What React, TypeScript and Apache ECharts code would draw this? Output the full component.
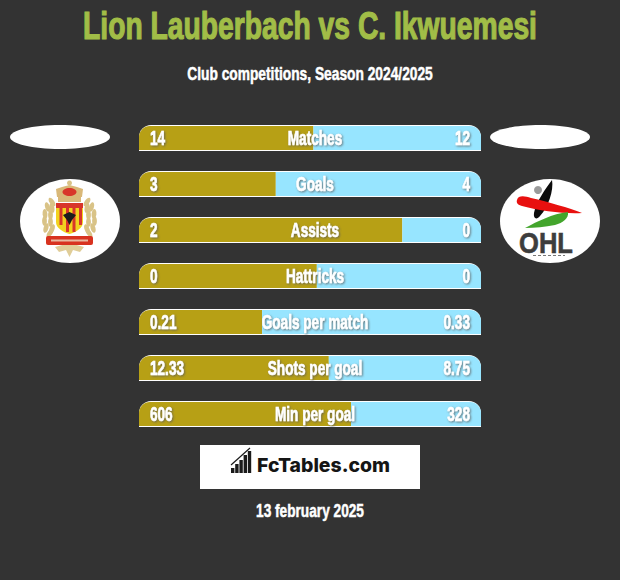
import React, { useEffect, useRef } from "react";
import * as echarts from "echarts";

const titleText = "Lion Lauberbach vs C. Ikwuemesi";
const subtitleText = "Club competitions, Season 2024/2025";
const dateText = "13 february 2025";
const brandText = "FcTables.com";
const categories = ["Matches", "Goals", "Assists", "Hattricks", "Goals per match", "Shots per goal", "Min per goal"];
const leftLabels = ["14", "3", "2", "0", "0.21", "12.33", "606"];
const rightLabels = ["12", "4", "0", "0", "0.33", "8.75", "328"];
const leftShares = [51, 40, 77, 52, 36, 55.5, 62];
const rightShares = [49, 60, 23, 48, 64, 44.5, 38];
const fullTrack = [100, 100, 100, 100, 100, 100, 100];

const FONT = '"Liberation Sans", sans-serif';
const GOLD = "#b7a015";
const BLUE = "#97e5ff";
const TAN = "#d9c387";

echarts.graphic.registerShape("redSwoosh", echarts.graphic.extendPath("M517 200 C518 195 525 196 531 198 C549 202 569 208 582 213 C565 214 540 211 522 206 C518 205 516 203 517 200 Z", {}));
echarts.graphic.registerShape("greenSwoosh", echarts.graphic.extendPath("M525 228 C538 221 552 214 568 212 C569 218 563 223 555 225 C545 227 535 228 525 228 Z", {}));
echarts.graphic.registerShape("blackStick", echarts.graphic.extendPath("M552 180 C554 190 548 208 540 216 C537 220 533 219 534 213 C536 202 546 188 552 180 Z", {}));
echarts.graphic.registerShape("crestShield", echarts.graphic.extendPath("M56 204 L83 204 L83 222 C83 228 76 232 69.5 234 C63 232 56 228 56 222 Z", {}));

function labelText(x: number, y: number, text: string, align: string) {
  return {
    type: "text",
    x,
    y: y + 1,
    scaleX: 0.68,
    style: {
      text,
      fill: "#ffffff",
      stroke: "#ffffff",
      lineWidth: 0.6,
      font: `bold 20px ${FONT}`,
      textAlign: align,
      textVerticalAlign: "middle",
      textShadowColor: "rgba(90,90,90,0.8)",
      textShadowBlur: 2,
      textShadowOffsetX: 1,
      textShadowOffsetY: 1,
    },
  };
}

function renderRowLabels(_: any, api: any) {
  const row = api.value(1);
  const [x0, y] = api.coord([0, row]);
  const [x1] = api.coord([100, row]);
  return {
    type: "group",
    children: [
      labelText(x0 + 11, y, leftLabels[row], "left"),
      labelText(x1 - 11, y, rightLabels[row], "right"),
      labelText((x0 + x1) / 2 + 5, y, categories[row], "center"),
    ],
  };
}

function pageText(x: number, y: number, text: string, fill: string, size: number, scaleX: number) {
  return {
    type: "text",
    x,
    y,
    scaleX,
    style: { text, fill, stroke: fill, lineWidth: size > 30 ? 1.2 : 0.5, font: `bold ${size}px ${FONT}`, textAlign: "center", textVerticalAlign: "middle" },
  };
}

function buildBrandBars() {
  const heights = [5, 9, 13, 18, 22];
  return heights.map((h, i) => ({
    type: "rect",
    shape: { x: 231 + i * 4.2, y: 473 - h, width: 3.4, height: h },
    style: { fill: "#1b1b1b" },
  }));
}

function leaf(cx: number, cy: number, rotation: number) {
  return {
    type: "ellipse",
    x: cx,
    y: cy,
    rotation,
    shape: { cx: 0, cy: 0, rx: 2.4, ry: 5 },
    style: { fill: TAN },
  };
}

function buildCrest() {
  const leaves = [
    [52, 202, 0.6], [47.5, 207, 0.3], [45, 214, 0.1], [44.5, 221, 0], [46, 228, -0.3], [50, 233, -0.6],
    [52, 208, 0.2], [50.5, 215, 0], [50.5, 222, 0], [52, 229, -0.4],
  ];
  const left = leaves.map(([x, y, r]) => leaf(x, y, r));
  const right = leaves.map(([x, y, r]) => leaf(139 - x, y, -r));
  const stripes = [59.5, 66, 72.5, 79].map((x) => ({
    type: "rect",
    shape: { x, y: 207, width: 3, height: x < 62 || x > 77 ? 18 : 25 },
    style: { fill: "#d8352a" },
  }));
  return [
    ...left,
    ...right,
    { type: "polygon", shape: { points: [[57, 197], [56, 189], [62, 187], [69.5, 185], [77, 187], [83, 189], [82, 197]] }, style: { fill: "#d9b878" } },
    { type: "ellipse", shape: { cx: 69.5, cy: 192, rx: 7, ry: 4 }, style: { fill: "#d8352a" } },
    { type: "circle", shape: { cx: 69.5, cy: 183, r: 2.5 }, style: { fill: TAN } },
    { type: "rect", shape: { x: 58, y: 197, width: 23, height: 5 }, style: { fill: "#d9b878" } },
    { type: "crestShield", style: { fill: "#f2d21f" } },
    { type: "rect", shape: { x: 56, y: 203, width: 27, height: 5 }, style: { fill: "#d8352a" } },
    ...stripes,
    { type: "polygon", shape: { points: [[69.5, 212], [76, 215], [72, 220], [69.5, 225], [67, 220], [63, 215]] }, style: { fill: "#1c1c1c" } },
    { type: "polygon", shape: { points: [[55, 247], [69.5, 243], [84, 247], [80, 252], [73, 250], [69.5, 257], [66, 250], [59, 252]] }, style: { fill: "#e0cd98" } },
    { type: "rect", shape: { x: 46, y: 236, width: 47, height: 9, r: 2 }, style: { fill: "#d8321f" } },
    { type: "rect", shape: { x: 51, y: 239.5, width: 37, height: 2 }, style: { fill: "#e8b8a0" } },
  ];
}

function buildOhl() {
  return [
    { type: "circle", shape: { cx: 538, cy: 190, r: 4 }, style: { fill: "#9a9a9a" } },
    { type: "blackStick", style: { fill: "#0c0c0c" } },
    { type: "redSwoosh", style: { fill: "#e8100f" } },
    { type: "greenSwoosh", style: { fill: "#43a52c" } },
    {
      type: "text",
      x: 546,
      y: 243,
      scaleX: 0.88,
      style: { text: "OHL", fill: "#3d3d3d", stroke: "#3d3d3d", lineWidth: 0.6, font: `bold 29px ${FONT}`, textAlign: "center", textVerticalAlign: "middle" },
    },
    { type: "line", shape: { x1: 533, y1: 255.5, x2: 565, y2: 255.5 }, style: { stroke: "#777777", lineWidth: 1, lineDash: [3, 2] } },
  ];
}

export default function App() {
  const ref = useRef<HTMLDivElement>(null);
  useEffect(() => {
    const chart = echarts.init(ref.current!, null, { renderer: "svg" });
    const axisBase = { type: "category", data: categories, inverse: true, show: false };
    chart.setOption({
      animation: false,
      backgroundColor: "#333333",
      grid: { left: 139, top: 115, width: 342, height: 322 },
      xAxis: { type: "value", min: 0, max: 100, show: false },
      yAxis: [axisBase, axisBase, axisBase],
      series: [
        {
          name: "Track",
          type: "bar",
          yAxisIndex: 0,
          data: fullTrack,
          barWidth: 26,
          z: 1,
          itemStyle: { color: "#ffffff", borderRadius: [12, 12, 0, 0] },
        },
        {
          name: "Left",
          type: "bar",
          stack: "share",
          yAxisIndex: 1,
          data: leftShares,
          barWidth: 24,
          z: 2,
          itemStyle: { color: GOLD, borderRadius: [11, 0, 0, 0] },
        },
        {
          name: "Right",
          type: "bar",
          stack: "share",
          yAxisIndex: 1,
          data: rightShares,
          barWidth: 24,
          z: 2,
          itemStyle: { color: BLUE, borderRadius: [0, 11, 0, 0] },
        },
        {
          name: "Labels",
          type: "custom",
          yAxisIndex: 2,
          z: 5,
          clip: false,
          silent: true,
          encode: { x: 0, y: 1 },
          data: categories.map((_, i) => [50, i]),
          renderItem: renderRowLabels,
        },
      ],
      graphic: [
        pageText(310, 25, titleText, "#a1bd47", 39, 0.725),
        pageText(310, 73.5, subtitleText, "#ffffff", 18, 0.765),
        { type: "ellipse", shape: { cx: 60, cy: 137, rx: 50, ry: 12 }, style: { fill: "#ffffff" } },
        { type: "ellipse", shape: { cx: 540, cy: 137, rx: 50, ry: 12 }, style: { fill: "#ffffff" } },
        { type: "ellipse", shape: { cx: 70, cy: 221, rx: 50, ry: 42 }, style: { fill: "#ffffff" } },
        { type: "ellipse", shape: { cx: 550, cy: 221, rx: 50, ry: 42 }, style: { fill: "#ffffff" } },
        ...buildCrest(),
        ...buildOhl(),
        { type: "rect", shape: { x: 200, y: 445, width: 220, height: 44 }, style: { fill: "#ffffff" } },
        ...buildBrandBars(),
        { type: "line", shape: { x1: 231, y1: 465, x2: 250, y2: 448 }, style: { stroke: "#1b1b1b", lineWidth: 1.2 } },
        { type: "text", style: { x: 257, y: 464.5, text: brandText, fill: "#151515", font: '800 19.4px Inter, sans-serif', textAlign: "left", textVerticalAlign: "middle" } },
        pageText(310, 511, dateText, "#ffffff", 18, 0.76),
      ],
    });
    return () => chart.dispose();
  }, []);
  return <div ref={ref} style={{ position: "fixed", left: 0, top: 0, width: 620, height: 580 }} />;
}
